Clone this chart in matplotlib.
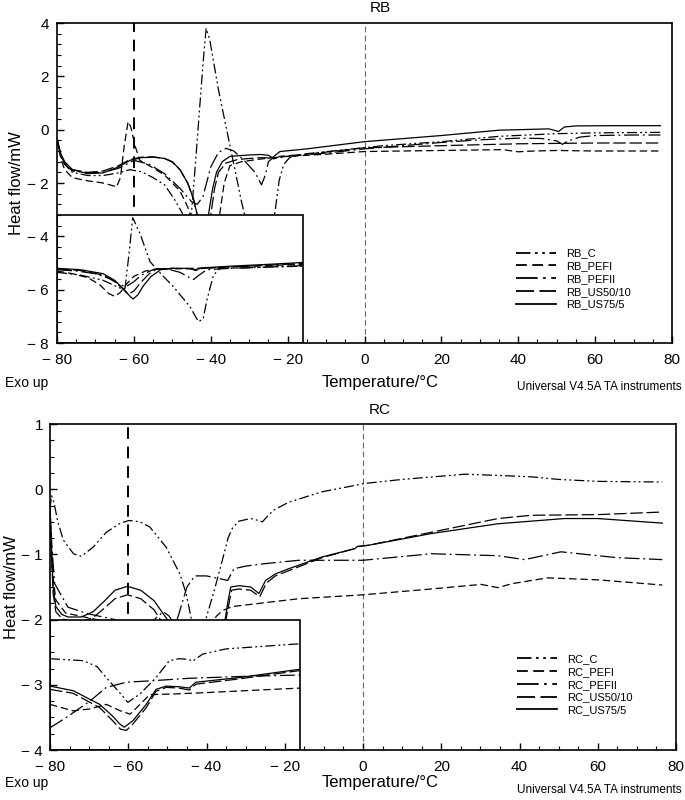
import matplotlib.pyplot as plt
from matplotlib.patches import Rectangle
from matplotlib.ticker import MultipleLocator, FuncFormatter

plt.rcParams['font.family'] = ['Liberation Sans', 'DejaVu Sans']

# ---------------- RB panel: main curves ----------------
rb_c_t = [-80, -79, -78, -76, -72, -68, -64, -61, -58, -55, -52, -49.5, -47.5, -46.3, -45, -44,
          -43, -42, -41.2, -40.3, -38, -36, -34, -32, -31, -29, -25, -23.3, -22.2, -21,
          -19.5, -15, -5, 5, 20, 35, 50, 60, 77]
rb_c_v = [-0.35, -1.0, -1.3, -1.6, -1.72, -1.72, -1.62, -1.5, -1.58, -1.8, -2.07, -2.6, -3.1, -3.6,
          -3.1, -1.3, 0.6, 2.5, 3.8, 3.4, 1.5, 0.1, -1.3, -2.7, -3.3, -4.2, -4.2, -3.1, -1.9, -1.3,
          -1.05, -0.9, -0.75, -0.6, -0.45, -0.25, -0.15, -0.12, -0.1]

rb_pefi_t = [-80, -79, -78, -76, -72, -68, -65.5, -64.5, -63.5, -62.5, -61.5, -60.8, -59.7, -58.5,
             -56, -52, -48, -46, -44, -41, -38, -36.5, -35, -32, -28, -24, -20, -10, 0, 10, 20,
             30, 36, 40, 44, 50, 60, 70, 77]
rb_pefi_v = [-0.35, -1.1, -1.5, -1.8, -1.92, -2.0, -2.1, -2.15, -1.8, -0.6, 0.3, 0.1, -0.6, -1.15,
             -1.35, -1.7, -2.3, -2.9, -3.8, -4.5, -3.5, -2.0, -1.35, -1.2, -1.12, -1.05, -1.0,
             -0.92, -0.82, -0.8, -0.78, -0.76, -0.75, -0.83, -0.8, -0.78, -0.8, -0.8, -0.8]

rb_pefii_t = [-80, -79, -78, -76, -72, -68, -64, -60, -56, -52, -48, -45, -43.5, -42, -40, -38,
              -36, -34, -31, -28.5, -26.8, -25.8, -25, -24, -20, -10, 0, 10, 20, 30, 40, 46, 50,
              51.5, 53, 56, 60, 70, 77]
rb_pefii_v = [-0.35, -1.0, -1.3, -1.55, -1.62, -1.6, -1.45, -1.15, -1.3, -1.65, -2.2, -2.7, -2.8,
              -2.5, -1.4, -0.85, -0.7, -0.8, -1.2, -1.6, -2.07, -1.7, -1.2, -1.08, -1.0, -0.88,
              -0.72, -0.6, -0.48, -0.38, -0.32, -0.33, -0.42, -0.55, -0.42, -0.28, -0.22, -0.2,
              -0.2]

rb_us50_t = [-80, -79, -78, -76, -72, -68, -64, -61, -58, -55, -52, -50, -48, -46, -44.5, -43,
             -41.5, -40, -39, -38, -36, -33, -30, -27, -25, -24, -22, -15, 0, 20, 40, 60, 77]
rb_us50_v = [-0.35, -1.0, -1.25, -1.5, -1.6, -1.55, -1.35, -1.12, -1.03, -1.02, -1.08, -1.22,
             -1.5, -2.0, -2.6, -3.5, -4.2, -3.2, -2.2, -1.6, -1.25, -1.12, -1.08, -1.05, -1.06,
             -1.12, -1.0, -0.92, -0.68, -0.6, -0.53, -0.5, -0.5]

rb_us75_t = [-80, -79, -78, -76, -72, -68, -64, -61, -58, -55, -52, -50, -48, -46, -44.5, -43,
             -41.5, -40.5, -39.5, -38.5, -37, -35, -30, -27, -25, -24, -22, -15, 0, 20, 35, 48,
             50.5, 52, 55, 65, 77]
rb_us75_v = [-0.35, -0.9, -1.2, -1.5, -1.65, -1.62, -1.4, -1.15, -1.05, -1.03, -1.08, -1.2, -1.5,
             -2.0, -2.6, -3.5, -4.2, -3.1, -2.2, -1.6, -1.2, -1.0, -0.95, -0.93, -0.96, -1.05,
             -0.82, -0.72, -0.45, -0.22, -0.02, 0.03, -0.07, 0.1, 0.14, 0.15, 0.15]

# ---------------- RB panel: inset curves ----------------
rb_c_in_t = [-80, -74, -68, -65, -63.4, -62.3, -61.3, -60.3, -59.5, -58.4, -55.8, -53, -49.7,
             -45.4, -43.2, -42, -41, -39.3, -37.6, -34, -25, -16]
rb_c_in_v = [-5.35, -5.45, -5.65, -5.85, -5.95, -5.95, -4.7, -3.3, -3.55, -3.9, -4.95, -5.4, -5.89,
             -6.64, -7.2, -7.1, -6.39, -5.45, -5.2, -5.2, -5.15, -5.12]

rb_pefi_in_t = [-80, -76, -72, -69, -66.5, -65, -63.5, -62, -60, -57, -54, -50, -45, -40, -30, -16]
rb_pefi_in_v = [-5.3, -5.4, -5.55, -5.8, -6.15, -6.25, -6.1, -5.8, -5.5, -5.3, -5.22, -5.22, -5.2,
                -5.18, -5.12, -5.05]

rb_pefii_in_t = [-80, -75, -70, -66, -63.5, -62, -60, -58, -55, -52, -48, -45.5, -44.5, -43, -41,
                 -35, -25, -16]
rb_pefii_in_v = [-5.25, -5.3, -5.4, -5.6, -5.82, -5.88, -5.7, -5.45, -5.25, -5.2, -5.35, -5.55,
                 -5.62, -5.45, -5.25, -5.2, -5.15, -5.1]

rb_us50_in_t = [-80, -74, -68, -65, -63, -61.5, -60, -58, -56, -54, -50, -45, -44, -42, -35, -25, -16]
rb_us50_in_v = [-5.22, -5.28, -5.45, -5.7, -5.95, -6.18, -6.05, -5.7, -5.4, -5.22, -5.2, -5.22,
                -5.28, -5.2, -5.15, -5.08, -5.02]

rb_us75_in_t = [-80, -74, -68, -65, -62.5, -61, -60.2, -59, -57.5, -55.5, -53, -50, -46, -44, -42,
                -35, -25, -16]
rb_us75_in_v = [-5.2, -5.25, -5.4, -5.65, -6.0, -6.25, -6.35, -6.2, -5.85, -5.5, -5.25, -5.2, -5.2,
                -5.25, -5.18, -5.12, -5.05, -4.98]

# ---------------- RC panel: main curves ----------------
rc_c_t = [-80, -79.6, -79, -78, -76.6, -74, -72, -69, -65.6, -62, -59.8, -57, -54.5, -50.3, -46.8,
          -45.2, -43.5, -42, -40.2, -38, -36, -34.5, -33.4, -31.7, -28.7, -26.7, -25.7, -24.5,
          -22.8, -19, -10.5, 0.7, 10, 26, 35, 43, 50, 60, 76.5]
rc_c_v = [-0.3, -0.1, -0.2, -0.5, -0.78, -0.99, -1.03, -0.89, -0.66, -0.52, -0.48, -0.5, -0.58,
          -0.89, -1.3, -1.6, -2.1, -2.3, -2.0, -1.55, -1.1, -0.75, -0.6, -0.49, -0.45, -0.48,
          -0.5, -0.42, -0.32, -0.2, -0.04, 0.09, 0.15, 0.23, 0.21, 0.19, 0.15, 0.12, 0.11]

rc_pefi_t = [-80, -79.5, -78.5, -76, -72, -68, -64, -55, -45, -39, -37.5, -35.9, -33.4, -25,
             -16.4, 0, 17.5, 30.2, 34.5, 38, 43, 47.2, 60, 76.5]
rc_pefi_v = [-0.3, -1.2, -1.7, -1.9, -1.95, -2.0, -2.1, -2.3, -2.3, -2.1, -1.95, -1.86, -1.8,
             -1.74, -1.68, -1.62, -1.53, -1.46, -1.51, -1.45, -1.4, -1.36, -1.39, -1.47]

rc_pefii_t = [-80, -79.5, -78.8, -75.4, -70.3, -63.4, -58, -52.5, -51, -49.5, -48, -46.5, -45,
              -43, -40, -36, -34.6, -33, -30, -24.8, -16.4, 0, 17.5, 34.5, 41.3, 50.6, 60, 65, 76.5]
rc_pefii_v = [-0.3, -0.9, -1.45, -1.81, -1.91, -2.0, -2.3, -1.95, -1.88, -1.95, -2.1, -1.8, -1.5,
              -1.33, -1.33, -1.38, -1.4, -1.22, -1.18, -1.14, -1.09, -1.09, -0.99, -1.02, -1.08,
              -0.96, -1.02, -1.05, -1.08]

rc_us50_t = [-80, -79.6, -79.2, -78.5, -77, -75.4, -72, -69, -66, -63.4, -60.2, -56.8, -53.4,
             -51.8, -50.5, -47, -42, -38, -35.5, -34.4, -33.6, -31.7, -28.7, -26.4, -24.7, -22.4,
             -19, -10.5, -2, -1.5, 1.4, 17.5, 34.5, 43, 60, 76.5]
rc_us50_v = [-0.3, -1.0, -1.6, -1.88, -1.98, -2.02, -2.03, -1.97, -1.82, -1.68, -1.62, -1.68,
             -1.85, -2.0, -2.1, -2.5, -2.7, -2.5, -2.15, -1.8, -1.55, -1.53, -1.55, -1.65, -1.44,
             -1.33, -1.25, -1.05, -0.91, -0.88, -0.86, -0.66, -0.45, -0.4, -0.39, -0.35]

rc_us75_t = [-80, -79.6, -79.2, -78.5, -77, -75.4, -72, -69, -66, -63.4, -60.2, -56.8, -53.4,
             -51.3, -50, -47, -42, -38, -35.5, -34.6, -33.8, -31.7, -28.7, -26.6, -24.9, -22.4,
             -19, -10.5, -2, -1.5, 1.4, 17.5, 34.5, 51.5, 60, 76.5]
rc_us75_v = [-0.25, -0.9, -1.5, -1.8, -1.92, -1.96, -1.96, -1.88, -1.71, -1.55, -1.49, -1.55,
             -1.71, -1.89, -2.0, -2.4, -2.6, -2.4, -2.1, -1.75, -1.5, -1.48, -1.5, -1.6, -1.4,
             -1.3, -1.22, -1.04, -0.91, -0.88, -0.86, -0.68, -0.53, -0.45, -0.45, -0.52]

# ---------------- RC panel: inset curves ----------------
rc_c_in_t = [-80, -71.5, -68, -65.6, -62.5, -60.1, -57, -52.9, -49.5, -47, -44.5, -43.6, -41,
             -35.1, -23.2, -16]
rc_c_in_v = [-2.6, -2.63, -2.72, -2.89, -3.1, -3.27, -3.14, -2.89, -2.63, -2.6, -2.61, -2.64,
             -2.53, -2.45, -2.4, -2.37]

rc_pefi_in_t = [-80, -74.1, -69.8, -65.6, -62, -59.5, -57, -54.5, -48, -40.2, -30, -16]
rc_pefi_in_v = [-3.3, -3.4, -3.37, -3.3, -3.4, -3.45, -3.3, -3.15, -3.14, -3.12, -3.09, -3.05]

rc_pefii_in_t = [-80, -75.8, -69.8, -65.6, -60.5, -54.5, -44.4, -30, -16]
rc_pefii_in_v = [-3.66, -3.5, -3.25, -3.04, -2.96, -2.94, -2.9, -2.87, -2.85]

rc_us50_in_t = [-80, -74.1, -67.3, -64, -62, -60.5, -58.8, -55.4, -52.9, -50.3, -47, -44.4, -42.7,
                -31.7, -16]
rc_us50_in_v = [-3.07, -3.13, -3.35, -3.55, -3.68, -3.7, -3.6, -3.35, -3.1, -3.04, -3.05, -3.08,
                -2.99, -2.91, -2.78]

rc_us75_in_t = [-80, -74.1, -67.3, -64, -62.2, -61, -58.8, -55.4, -52.9, -50.3, -47, -44.4, -42.7,
                -31.7, -16]
rc_us75_in_v = [-3.02, -3.09, -3.3, -3.48, -3.6, -3.65, -3.55, -3.3, -3.07, -3.02, -3.03, -3.05,
                -2.96, -2.89, -2.76]

series = ['C', 'PEFI', 'PEFII', 'US50/10', 'US75/5']
dash_styles = [(0, (8, 2.5, 1.5, 2.5, 1.5, 2.5)),
               (0, (6, 3)),
               (0, (12, 3, 1.5, 3)),
               (0, (10, 3)),
               '-']

rb_main = [(rb_c_t, rb_c_v), (rb_pefi_t, rb_pefi_v), (rb_pefii_t, rb_pefii_v),
           (rb_us50_t, rb_us50_v), (rb_us75_t, rb_us75_v)]
rb_inset = [(rb_c_in_t, rb_c_in_v), (rb_pefi_in_t, rb_pefi_in_v), (rb_pefii_in_t, rb_pefii_in_v),
            (rb_us50_in_t, rb_us50_in_v), (rb_us75_in_t, rb_us75_in_v)]
rc_main = [(rc_c_t, rc_c_v), (rc_pefi_t, rc_pefi_v), (rc_pefii_t, rc_pefii_v),
           (rc_us50_t, rc_us50_v), (rc_us75_t, rc_us75_v)]
rc_inset = [(rc_c_in_t, rc_c_in_v), (rc_pefi_in_t, rc_pefi_in_v), (rc_pefii_in_t, rc_pefii_in_v),
            (rc_us50_in_t, rc_us50_in_v), (rc_us75_in_t, rc_us75_in_v)]


def minus_fmt(v, pos):
    if abs(v) < 1e-9:
        return '0'
    if v < 0:
        return '\u2212 %g' % abs(v)
    return '%g' % v


def draw_panel(ax, prefix, main, inset, ylim, ymajor, yminor, box_top, ypad):
    ax.axvline(-60, color='black', lw=1.4, dashes=(6, 4), zorder=1.5)
    ax.axvline(0, color='#666666', lw=0.8, dashes=(5, 3), zorder=1.5)
    for (t, v), ls in zip(main, dash_styles):
        ax.plot(t, v, color='black', lw=0.9, linestyle=ls, zorder=2)

    # white inset box drawn over the main curves
    box = Rectangle((-80, ylim[0]), 64, box_top - ylim[0], facecolor='white',
                    edgecolor='black', lw=1.2, zorder=3)
    ax.add_patch(box)
    for (t, v), ls in zip(inset, dash_styles):
        ln, = ax.plot(t, v, color='black', lw=0.9, linestyle=ls, zorder=4)
        ln.set_clip_path(box)

    ax.set_xlim(-80, 80)
    ax.set_ylim(*ylim)
    ax.xaxis.set_major_locator(MultipleLocator(20))
    ax.xaxis.set_minor_locator(MultipleLocator(5))
    ax.yaxis.set_major_locator(MultipleLocator(ymajor))
    ax.yaxis.set_minor_locator(MultipleLocator(yminor))
    ax.xaxis.set_major_formatter(FuncFormatter(minus_fmt))
    ax.yaxis.set_major_formatter(FuncFormatter(minus_fmt))
    ax.tick_params(which='both', direction='in', top=False, right=False, labelsize=11)
    ax.tick_params(which='major', length=5, width=1)
    ax.tick_params(which='minor', length=3, width=0.8)
    ax.tick_params(axis='x', which='major', pad=7)
    ax.tick_params(axis='y', which='major', pad=ypad)
    ax.xaxis.set_zorder(5)
    ax.yaxis.set_zorder(5)
    for sp in ax.spines.values():
        sp.set_linewidth(1.2)
        sp.set_zorder(5)
    ax.set_ylabel('Heat flow/mW', fontsize=12, labelpad=2)

    handles = [plt.Line2D([], [], color='black', lw=1.3, linestyle=ls) for ls in dash_styles]
    labels = [prefix + '_' + s for s in series]
    ax.legend(handles, labels, loc='center left', bbox_to_anchor=(0.73, 0.2), frameon=False,
              fontsize=8, handlelength=3.6, labelspacing=0.25, handletextpad=0.9)


fig = plt.figure(figsize=(6.85, 8), dpi=100)
ax1 = fig.add_axes([57 / 685, 1 - 343 / 800, 615 / 685, 320 / 800])
ax2 = fig.add_axes([50 / 685, 1 - 750 / 800, 626 / 685, 326 / 800])

draw_panel(ax1, 'RB', rb_main, rb_inset, (-8, 4), 2, 0.4, -3.2, 6)
draw_panel(ax2, 'RC', rc_main, rc_inset, (-4, 1), 1, 0.25, -2.0, 5)

fig.text(380 / 685, 1 - 8 / 800, 'RB', ha='center', va='center', fontsize=11)
fig.text(380 / 685, 1 - 410 / 800, 'RC', ha='center', va='center', fontsize=11)
for y_lab, y_uni in [(383, 387), (783, 790)]:
    fig.text(5 / 685, 1 - y_lab / 800, 'Exo up', ha='left', va='center', fontsize=10)
    fig.text(380 / 685, 1 - y_lab / 800, 'Temperature/\u00b0C', ha='center', va='center',
             fontsize=12)
    fig.text(682 / 685, 1 - y_uni / 800, 'Universal V4.5A TA instruments', ha='right',
             va='center', fontsize=8.5)

fig.savefig('out.png', dpi=100)
